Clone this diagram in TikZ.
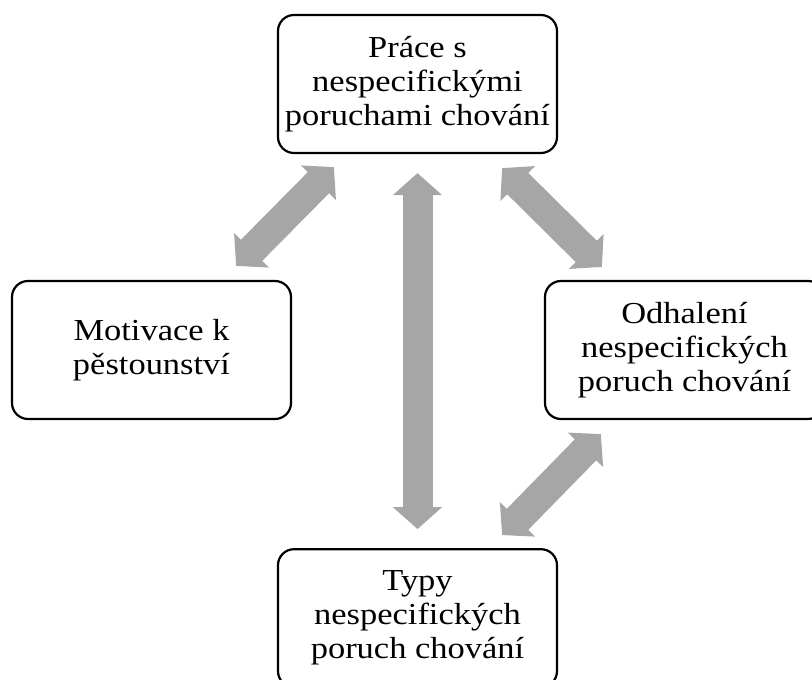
\documentclass[tikz,border=0pt]{standalone}
\usepackage{fontspec}
\setmainfont{Liberation Serif}[FakeStretch=1.13]
\usetikzlibrary{arrows.meta, positioning}
\definecolor{arrowgray}{RGB}{166,166,166}

\begin{document}
\begin{tikzpicture}[x=1pt, y=1pt,
  box/.style={draw, line width=2.2pt, rounded corners=16pt, align=center,
    minimum width=279pt, minimum height=138pt, inner sep=2pt,
    font=\fontsize{30.5}{34}\selectfont},
  bigarrow/.style={arrowgray, line width=30pt,
    {Triangle[width=48pt,length=22pt]}-{Triangle[width=48pt,length=22pt]}}]
\useasboundingbox (0,0) rectangle (812,-680);
\clip (0,0) rectangle (812,-680);
\node[box] (prace) at (417.5,-84) {Práce s\\nespecifickými\\poruchami chování};
\node[box, below=394pt of prace] (typy) {Typy\\nespecifických\\poruch chování};
\node[box] (motivace) at (151.5,-350) {Motivace k\\pěstounství};
\node[box] (odhaleni) at (684.5,-350) {Odhalení\\nespecifických\\poruch chování};
\draw[bigarrow] ([shift={(-56,14)}]motivace.north east) -- ([shift={(57,-13)}]prace.south west);
\draw[bigarrow] ([shift={(-56,-14)}]prace.south east) -- ([shift={(58,13)}]odhaleni.north west);
\draw[bigarrow, shorten <=19pt, shorten >=19pt] (prace.south) -- (typy.north);
\draw[bigarrow] ([shift={(57,-14)}]odhaleni.south west) -- ([shift={(-56,13)}]typy.north east);
\end{tikzpicture}
\end{document}
